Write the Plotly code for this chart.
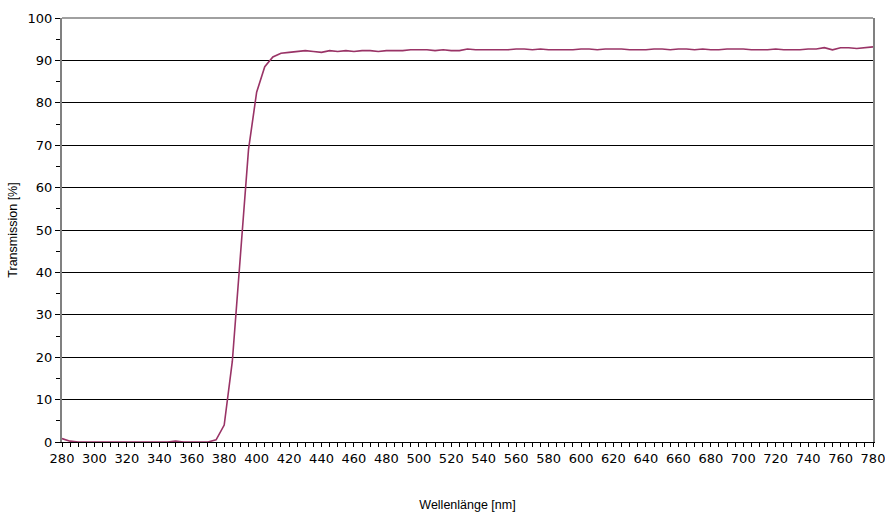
import plotly.graph_objects as go

wavelength = list(range(280, 785, 5))
transmission = [
    0.8, 0.2, 0.0, 0.0, 0.0, 0.0, 0.0, 0.0, 0.0, 0.0,   # 280-325
    0.0, 0.0, 0.0, 0.0, 0.2, 0.0, 0.0, 0.0, 0.0, 0.5,   # 330-375
    4.0, 19.0, 44.0, 69.0, 82.5, 88.5, 90.8, 91.7, 91.9, 92.1,  # 380-425
    92.3, 92.1, 91.9, 92.3, 92.1, 92.3, 92.1, 92.3, 92.3, 92.1,  # 430-475
    92.3, 92.3, 92.3, 92.5, 92.5, 92.5, 92.3, 92.5, 92.3, 92.3,  # 480-525
    92.7, 92.5, 92.5, 92.5, 92.5, 92.5, 92.7, 92.7, 92.5, 92.7,  # 530-575
    92.5, 92.5, 92.5, 92.5, 92.7, 92.7, 92.5, 92.7, 92.7, 92.7,  # 580-625
    92.5, 92.5, 92.5, 92.7, 92.7, 92.5, 92.7, 92.7, 92.5, 92.7,  # 630-675
    92.5, 92.5, 92.7, 92.7, 92.7, 92.5, 92.5, 92.5, 92.7, 92.5,  # 680-725
    92.5, 92.5, 92.7, 92.7, 93.0, 92.5, 93.0, 93.0, 92.8, 93.0,  # 730-775
    93.2,                                                          # 780
]

x_title = "Wellenlänge [nm]"
y_title = "Transmission [%]"

fig = go.Figure()
fig.add_trace(go.Scatter(
    x=wavelength, y=transmission, mode="lines",
    line=dict(color="#993366", width=1.6),
    hoverinfo="skip", showlegend=False,
))

tick_font = dict(family="DejaVu Sans", size=13, color="#000000")

fig.update_layout(
    width=885, height=513,
    margin=dict(l=62, r=12, t=18, b=71),
    paper_bgcolor="white", plot_bgcolor="white",
    xaxis=dict(
        range=[280, 780], dtick=20, tick0=280,
        automargin=False, ticklabeloverflow="allow",
        showgrid=False, zeroline=False,
        showline=True, linecolor="#000000", linewidth=1,
        ticks="outside", ticklen=4, tickcolor="#000000", tickwidth=1,
        minor=dict(dtick=5, tick0=280, ticks="outside", ticklen=4, tickcolor="#000000", showgrid=False),
        tickfont=tick_font,
        title=dict(text=x_title, font=dict(family="Liberation Sans", size=12.5, color="#000000"), standoff=35),
    ),
    yaxis=dict(
        range=[0, 100], dtick=10,
        automargin=False, ticklabeloverflow="allow",
        showgrid=True, gridcolor="#000000", gridwidth=1,
        zeroline=False,
        showline=True, linecolor="#808080", linewidth=2, mirror=True,
        ticks="outside", ticklen=5, tickcolor="#000000", tickwidth=1,
        minor=dict(dtick=5, ticks="outside", ticklen=4, tickcolor="#000000", showgrid=False),
        tickfont=tick_font,
        title=dict(text=y_title, font=dict(family="Liberation Sans", size=12.5, color="#000000"), standoff=7),
    ),
    shapes=[dict(type="line", xref="paper", yref="paper", x0=0, x1=1, y0=1, y1=1,
                 line=dict(color="#808080", width=1.5))],
)

fig.write_html("out.html", config={"displayModeBar": False},
               post_script="document.body.style.margin='0';document.body.style.overflow='hidden';")
